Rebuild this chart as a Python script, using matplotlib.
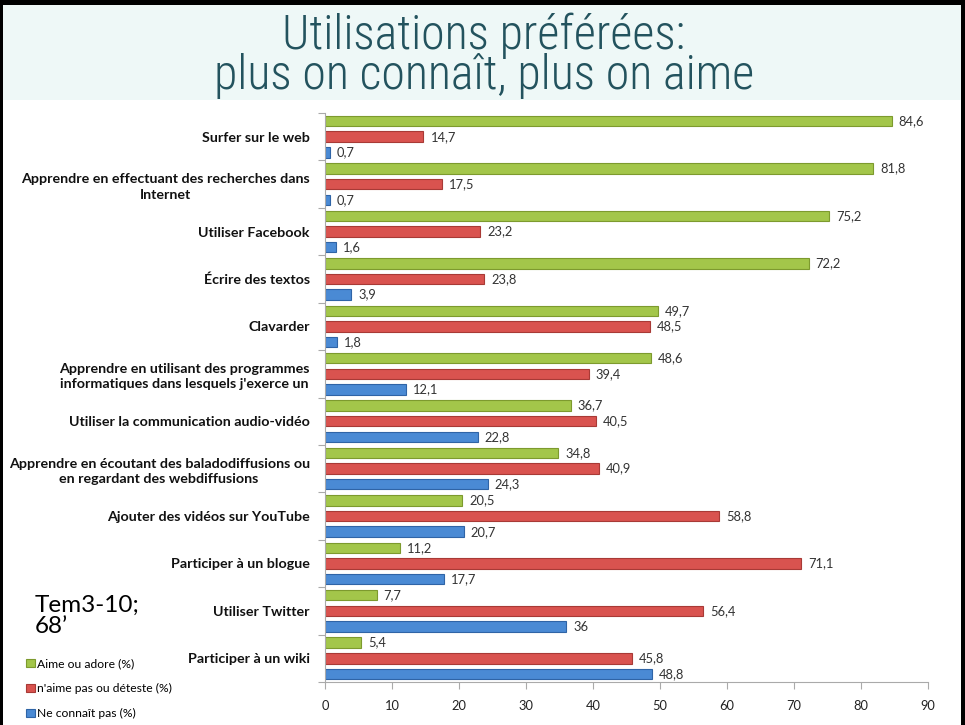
import matplotlib
matplotlib.use("Agg")
import matplotlib.pyplot as plt
from matplotlib.patches import Rectangle
import numpy as np

categories = [
    "Surfer sur le web",
    "Apprendre en effectuant des recherches dans\nInternet",
    "Utiliser Facebook",
    "Écrire des textos",
    "Clavarder",
    "Apprendre en utilisant des programmes\ninformatiques dans lesquels j'exerce un",
    "Utiliser la communication audio-vidéo",
    "Apprendre en écoutant des baladodiffusions ou\nen regardant des webdiffusions",
    "Ajouter des vidéos sur YouTube",
    "Participer à un blogue",
    "Utiliser Twitter",
    "Participer à un wiki",
]
aime = [84.6, 81.8, 75.2, 72.2, 49.7, 48.6, 36.7, 34.8, 20.5, 11.2, 7.7, 5.4]
naime = [14.7, 17.5, 23.2, 23.8, 48.5, 39.4, 40.5, 40.9, 58.8, 71.1, 56.4, 45.8]
connait = [0.7, 0.7, 1.6, 3.9, 1.8, 12.1, 22.8, 24.3, 20.7, 17.7, 36, 48.8]
series_names = ["Aime ou adore (%)", "n'aime pas ou déteste (%)", "Ne connaît pas (%)"]
xticks = [0, 10, 20, 30, 40, 50, 60, 70, 80, 90]

FAM = ["Lato", "DejaVu Sans"]
TFAM = ["Roboto Condensed", "DejaVu Sans"]
W, H = 965, 725
fig = plt.figure(figsize=(W / 100, H / 100), dpi=100)
fig.patch.set_facecolor("white")

# title background and frame
fig.add_artist(Rectangle((0, 1 - 100 / H), 1, 100 / H, transform=fig.transFigure,
                         facecolor="#eef8f7", edgecolor="none", zorder=0))
for (x0, y0, w, h) in [(0, 1 - 5 / H, 1, 5 / H), (0, 0, 3 / W, 1), (1 - 4 / W, 0, 4 / W, 1)]:
    fig.add_artist(Rectangle((x0, y0), w, h, transform=fig.transFigure,
                             facecolor="black", edgecolor="none", zorder=10))

fig.text(484 / W, 1 - 56 / H, "Utilisations préférées:\nplus on connaît, plus on aime",
         ha="center", va="center", multialignment="center", linespacing=0.82,
         fontsize=34.5, color="#23535e", family=TFAM, fontweight=300)

ax = fig.add_axes([325 / W, 1 - 682 / H, (928 - 325) / W, (682 - 113) / H])
y = np.arange(len(categories))
off = 0.33
h = 0.22
colors = ["#a3c64a", "#d9534f", "#4a8ad4"]
edges = ["#7d9a2e", "#a83a36", "#2f64a6"]
data = [aime, naime, connait]
bars = []
for i, (vals, c, e) in enumerate(zip(data, colors, edges)):
    b = ax.barh(y + (i - 1) * off, vals, height=h, color=c, edgecolor=e, linewidth=0.8,
                label=series_names[i])
    bars.append(b)
    for yy, v in zip(y + (i - 1) * off, vals):
        txt = ("%g" % v).replace(".", ",")
        ax.annotate(txt, (v, yy), xytext=(5, 0), textcoords="offset points",
                    ha="left", va="center", fontsize=9.3, color="#333333", family=FAM)

ax.set_xlim(0, 90)
ax.set_ylim(len(categories) - 0.5, -0.5)
ax.set_xticks(xticks)
ax.set_xticklabels([str(t) for t in xticks], fontsize=9.3, color="#222222", family=FAM)
ax.set_yticks(y)
ax.set_yticklabels(categories, fontsize=10.3, fontweight="bold", color="#111111",
                   family=FAM, multialignment="center", linespacing=1.35)
ax.set_yticks(np.arange(-0.5, len(categories), 1.0), minor=True)
ax.tick_params(axis="y", which="major", length=0, pad=11)
ax.tick_params(axis="y", which="minor", length=5, color="#aaaaaa", width=0.8)
ax.tick_params(axis="x", length=5, color="#aaaaaa", width=0.8, pad=8)
for s in ["top", "right"]:
    ax.spines[s].set_visible(False)
for s in ["left", "bottom"]:
    ax.spines[s].set_color("#aaaaaa")
    ax.spines[s].set_linewidth(0.8)

fig.text(35 / W, 1 - 616 / H, "Tem3-10;\n68’", ha="left", va="center", fontsize=17.5,
         color="black", family=FAM, linespacing=1.05)

fig.legend(handles=bars, labels=series_names, loc="upper left",
           bbox_to_anchor=(18 / W, 1 - 650 / H), frameon=False,
           handlelength=0.7, handleheight=0.7, handletextpad=0.2, labelspacing=1.15,
           borderpad=0.2, prop={"family": FAM, "size": 8.7})

fig.savefig("out.png", dpi=100)
